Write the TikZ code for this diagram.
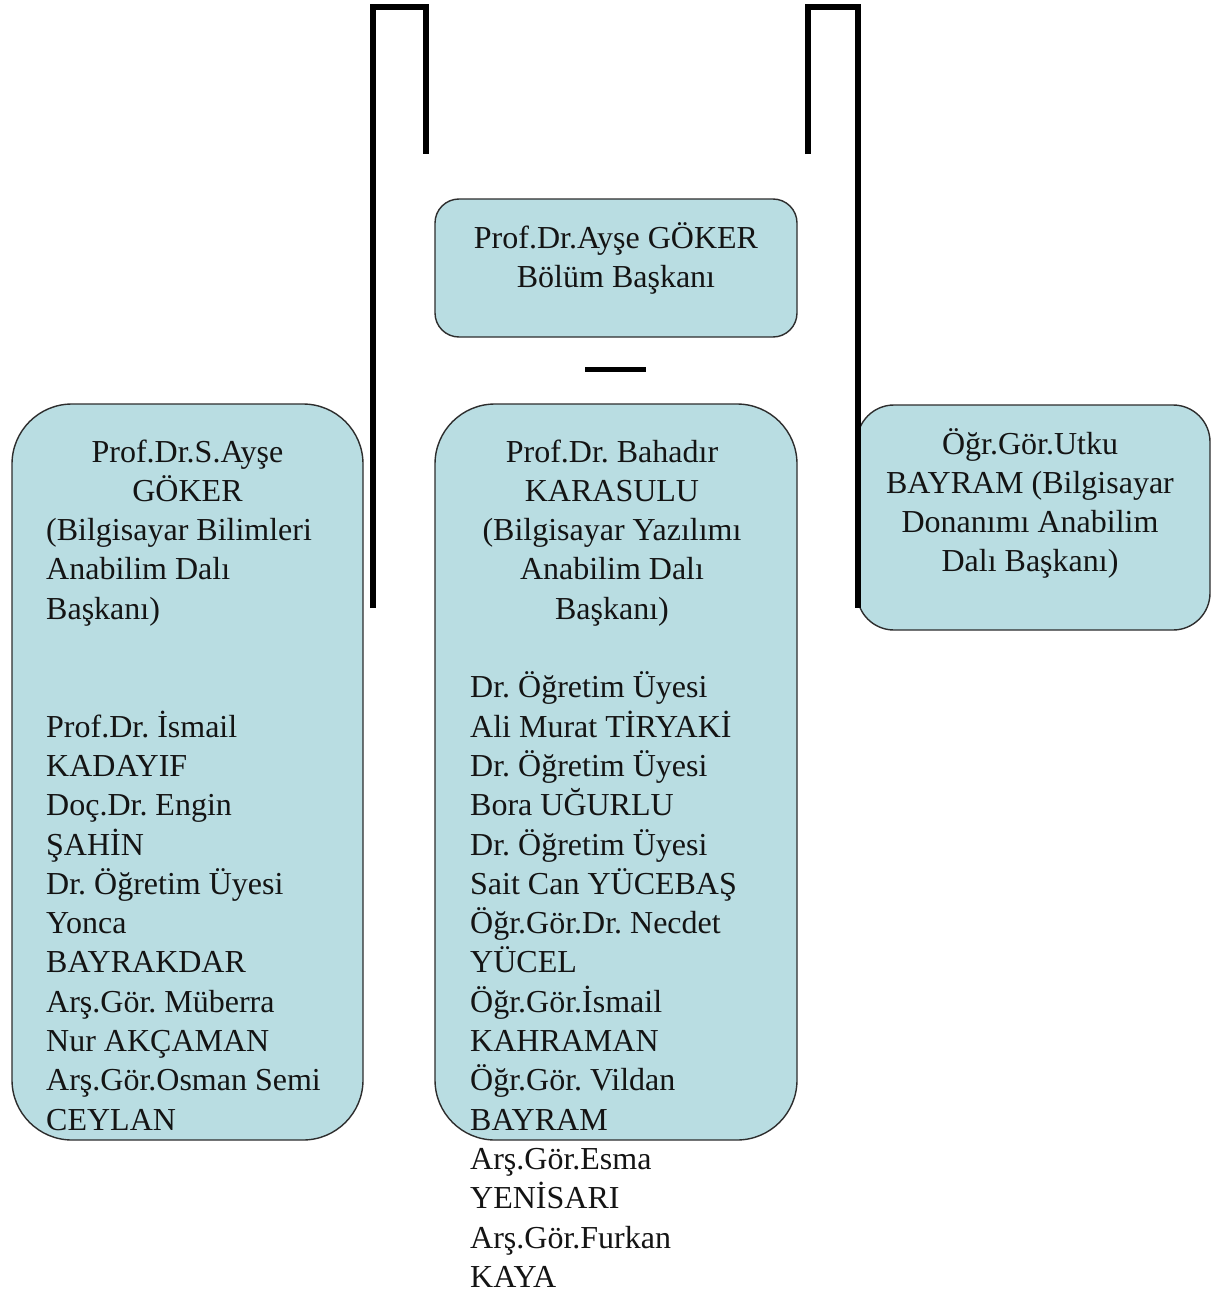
\documentclass[tikz,border=0pt]{standalone}
\usepackage{fontspec}
\setmainfont{Liberation Serif}
\frenchspacing
\definecolor{boxfill}{RGB}{185,221,226}
\definecolor{edge}{RGB}{45,45,45}
\definecolor{ink}{RGB}{20,20,20}
\begin{document}
\frenchspacing
\begin{tikzpicture}[x=1pt,y=-1pt,
  box/.style={draw=edge, line width=1.4pt, fill=boxfill, inner sep=0pt},
  conn/.style={line width=6pt, black, line join=miter, line cap=butt},
  bar/.style={line width=5pt, black},
  txt/.style={font=\fontsize{32}{39.3}\selectfont\frenchspacing, inner sep=0pt, text=ink}]

\useasboundingbox (0,0) rectangle (1212,1295);

% boxes
\node[box, rounded corners=24, minimum width=362, minimum height=138] (head) at (616,268) {};
\node[box, rounded corners=60, minimum width=351, minimum height=736] (left) at (187.5,772) {};
\node[box, rounded corners=60, minimum width=362, minimum height=736] (mid) at (616,772) {};
\node[box, rounded corners=37, minimum width=353, minimum height=225] (right) at (1033.5,517.5) {};

% connector coordinates
\coordinate (lb1) at (373,608);
\coordinate (lb2) at (373,7);
\coordinate (lb3) at (425.5,7);
\coordinate (lb4) at (425.5,154);
\coordinate (rb1) at (808,154);
\coordinate (rb2) at (808,7);
\coordinate (rb3) at (857.5,7);
\coordinate (rb4) at (857.5,608);
\coordinate (bar1) at (585,369.5);
\coordinate (bar2) at (646,369.5);

\draw[conn] (lb1) -- (lb2) -- (lb3) -- (lb4);
\draw[conn] (rb1) -- (rb2) -- (rb3) -- (rb4);
\draw[bar] (bar1) -- (bar2);

% head text
\node[txt, anchor=base] (h1) at (616,248) {Prof.Dr.Ayşe GÖKER};
\node[txt, anchor=base] (h2) at (616,287.3) {Bölüm Başkanı};

% left box text
\node[txt, anchor=base] (lh1) at (187.5,462) {Prof.Dr.S.Ayşe};
\node[txt, anchor=base] (lh2) at (187.5,501.3) {GÖKER};
\node[txt, anchor=base west] (lh3) at (46,540.6) {(Bilgisayar Bilimleri};
\node[txt, anchor=base west] (lh4) at (46,579.9) {Anabilim Dalı};
\node[txt, anchor=base west] (lh5) at (46,619.2) {Başkanı)};
\foreach \t [count=\i from 0] in {Prof.Dr. İsmail, KADAYIF, Doç.Dr. Engin, ŞAHİN, Dr. Öğretim Üyesi, Yonca, BAYRAKDAR, Arş.Gör. Müberra, Nur AKÇAMAN, Arş.Gör.Osman Semi, CEYLAN}
  \node[txt, anchor=base west] (ll\i) at (46,{737.1+\i*39.3}) {\t};

% middle box text
\node[txt, anchor=base] (mh1) at (612,462) {Prof.Dr. Bahadır};
\node[txt, anchor=base] (mh2) at (612,501.3) {KARASULU};
\node[txt, anchor=base] (mh3) at (612,540.6) {(Bilgisayar Yazılımı};
\node[txt, anchor=base] (mh4) at (612,579.9) {Anabilim Dalı};
\node[txt, anchor=base] (mh5) at (612,619.2) {Başkanı)};
\foreach \t [count=\i from 0] in {Dr. Öğretim Üyesi, Ali Murat TİRYAKİ, Dr. Öğretim Üyesi, Bora UĞURLU, Dr. Öğretim Üyesi, Sait Can YÜCEBAŞ, Öğr.Gör.Dr. Necdet, YÜCEL, Öğr.Gör.İsmail, KAHRAMAN, Öğr.Gör. Vildan, BAYRAM, Arş.Gör.Esma, YENİSARI, Arş.Gör.Furkan, KAYA}
  \node[txt, anchor=base west] (ml\i) at (470,{697.8+\i*39.3}) {\t};

% right box text
\node[txt, anchor=base] (r1) at (1030,454) {Öğr.Gör.Utku};
\node[txt, anchor=base] (r2) at (1030,493.3) {BAYRAM (Bilgisayar};
\node[txt, anchor=base] (r3) at (1030,532.6) {Donanımı Anabilim};
\node[txt, anchor=base] (r4) at (1030,571.9) {Dalı Başkanı)};
\end{tikzpicture}
\end{document}
